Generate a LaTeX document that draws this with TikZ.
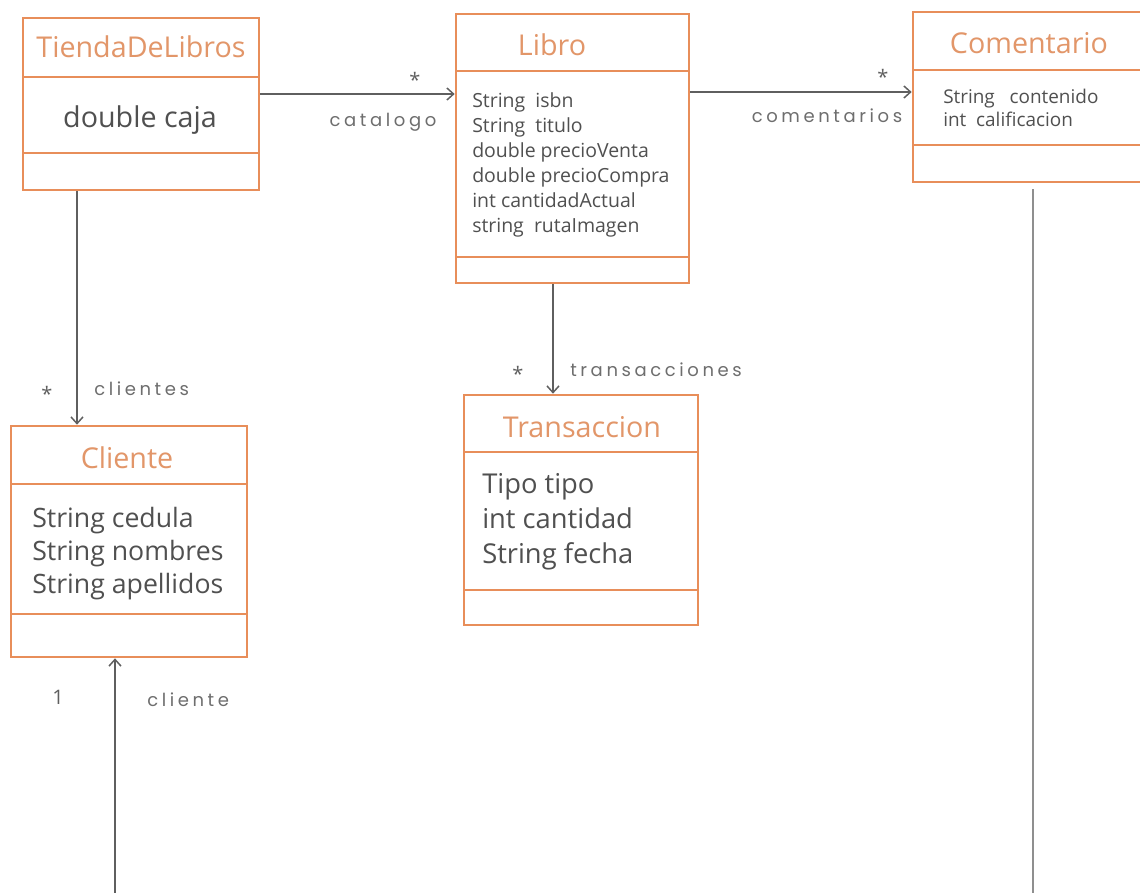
\documentclass[tikz,border=0pt]{standalone}
\usepackage{fontspec}
\setmainfont{Open Sans}
\newfontfamily\lblfont[LetterSpace=20]{Poppins}
\usetikzlibrary{arrows.meta,fit}
\definecolor{boxor}{RGB}{232,142,90}
\definecolor{titleor}{RGB}{226,150,105}
\definecolor{attrgray}{RGB}{80,80,80}
\definecolor{arrgray}{RGB}{95,95,95}
\definecolor{lblgray}{RGB}{110,110,110}
\begin{document}
\begin{tikzpicture}[x=0.75pt,y=-0.75pt,
  classbox/.style={draw=boxor,line width=2pt,inner sep=0pt,fill=white},
  divider/.style={draw=boxor,line width=2pt},
  fixh/.style={text height=0.95em,text depth=0.05em,yshift=-3pt},
  ctitle/.style={text=titleor,inner sep=0pt,font=\fontsize{21.5}{24}\selectfont,fixh},
  attr/.style={text=attrgray,inner sep=0pt,anchor=west,fixh},
  assoc/.style={draw=arrgray,line width=1.1pt,-{Straight Barb[length=5pt,width=9pt]}},
  plainline/.style={draw=arrgray!70,line width=1.4pt},
  lbl/.style={text=lblgray,inner sep=0pt,font=\lblfont\fontsize{13.5}{15}\selectfont,fixh,yshift=1pt},
  mult/.style={text=arrgray,inner sep=0pt,font=\fontsize{15}{16}\selectfont}]
\useasboundingbox (0,0) rectangle (1140,893);
\clip (0,0) rectangle (1140,893);
\fill[white] (0,0) rectangle (1140,893);

% ---- TiendaDeLibros
\node[classbox,fit={(23,18) (259,190)}] (tienda) {};
\draw[divider] (23,77) -- (259,77);
\draw[divider] (23,153) -- (259,153);
\node[ctitle] (tiendaT) at (141,47) {TiendaDeLibros};
\node[attr,anchor=center,font=\fontsize{21.5}{24}\selectfont] (tiendaA) at (140,117) {double caja};

% ---- Libro
\node[classbox,fit={(456,14) (689,283)}] (libro) {};
\draw[divider] (456,71) -- (689,71);
\draw[divider] (456,257) -- (689,257);
\node[ctitle] (libroT) at (552,45) {Libro};
\begin{scope}[every node/.append style={attr,font=\fontsize{14.6}{17}\selectfont}]
\node (la1) at (472,97) {String\ \ isbn};
\node (la2) at (472,122) {String\ \ titulo};
\node (la3) at (472,147) {double precioVenta};
\node (la4) at (472,172) {double precioCompra};
\node (la5) at (472,197) {int cantidadActual};
\node (la6) at (472,222) {string\ \ rutaImagen};
\end{scope}

% ---- Comentario
\node[classbox,fit={(913,12) (1150,182)}] (coment) {};
\draw[divider] (913,70) -- (1150,70);
\draw[divider] (913,145) -- (1150,145);
\node[ctitle] (comentT) at (1029,43) {Comentario};
\begin{scope}[every node/.append style={attr,font=\fontsize{14.2}{16}\selectfont}]
\node (ca1) at (943,93) {String\ \ \ contenido};
\node (ca2) at (943,116) {int\ \ calificacion};
\end{scope}

% ---- Transaccion
\node[classbox,fit={(464,395) (698,625)}] (trans) {};
\draw[divider] (464,452) -- (698,452);
\draw[divider] (464,590) -- (698,590);
\node[ctitle] (transT) at (582,427) {Transaccion};
\begin{scope}[every node/.append style={attr,font=\fontsize{20.5}{24}\selectfont}]
\node (ta1) at (482,483) {Tipo tipo};
\node (ta2) at (482,518) {int cantidad};
\node (ta3) at (482,553) {String fecha};
\end{scope}

% ---- Cliente
\node[classbox,fit={(11,426) (247,657)}] (cliente) {};
\draw[divider] (11,484) -- (247,484);
\draw[divider] (11,614) -- (247,614);
\node[ctitle] (clienteT) at (127,458) {Cliente};
\begin{scope}[every node/.append style={attr,font=\fontsize{20}{24}\selectfont}]
\node (cla1) at (32,517) {String cedula};
\node (cla2) at (32,550) {String nombres};
\node (cla3) at (32,583) {String apellidos};
\end{scope}

% ---- connectors
\coordinate (bl) at (115,893);
\coordinate (br) at (1033,893);
\draw[assoc] (tienda.east |- 0,94) -- (libro.west |- 0,94);
\draw[assoc] (libro.east |- 0,92) -- (coment.west |- 0,92);
\draw[assoc] (tienda.south -| 77,0) -- (cliente.north -| 77,0);
\draw[assoc] (libro.south -| 553,0) -- (trans.north -| 553,0);
\draw[assoc] (bl) -- (cliente.south -| bl);
\draw[plainline] (coment.south -| br) ++(0,6) -- (br);

% ---- labels
\node[mult] (m1) at (415,80) {*};
\node[lbl] (l1) at (383,118) {catalogo};
\node[mult] (m2) at (883,77) {*};
\node[lbl] (l2) at (827,114) {comentarios};
\node[mult] (m3) at (47,394) {*};
\node[lbl,anchor=west] (l3) at (94,387) {clientes};
\node[mult] (m4) at (518,374) {*};
\node[lbl,anchor=west] (l4) at (570,368) {transacciones};
\node[mult,font=\fontsize{15}{16}\selectfont] (m5) at (58,697) {1};
\node[lbl,anchor=west] (l5) at (147,698) {cliente};
\end{tikzpicture}
\end{document}
